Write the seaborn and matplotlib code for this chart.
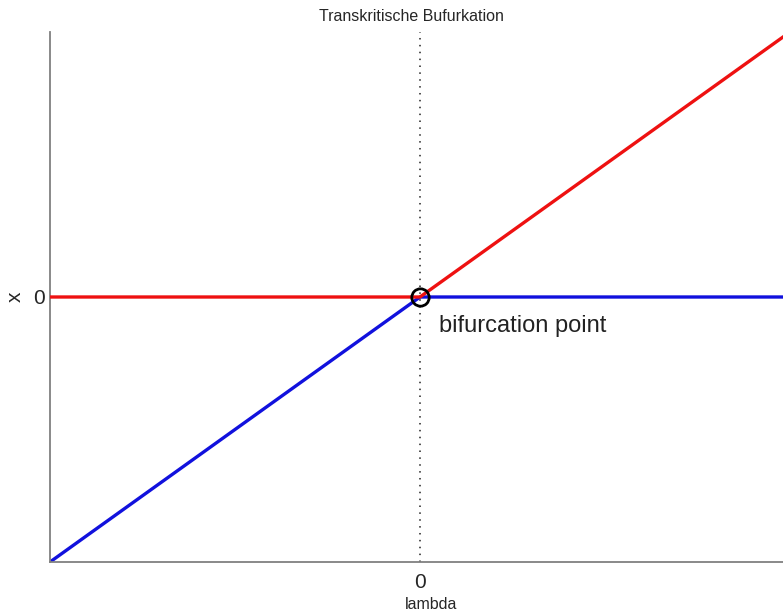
import matplotlib
matplotlib.use("Agg")
import matplotlib.pyplot as plt
import seaborn as sns
import pandas as pd

# data
lambda_vals = [-1.0, 0.0, 1.0]
red_branch = [0.0, 0.0, 1.0]
blue_branch = [-1.0, 0.0, 0.0]
bif_point = (0.0, 0.0)
xticks = [0]
yticks = [0]

sns.set_style("white")
plt.rcParams['font.family'] = ['Liberation Sans', 'DejaVu Sans']

fig = plt.figure(figsize=(7.83, 6.15), dpi=100)
ax = fig.add_axes([50/783, (615-562)/615, 740/783, 530/615])

df_red = pd.DataFrame({"lambda": lambda_vals, "x": red_branch})
df_blue = pd.DataFrame({"lambda": lambda_vals, "x": blue_branch})

ax.axvline(0, color="#222222", linestyle=(0, (1, 3.5)), linewidth=1.1, zorder=1)
sns.lineplot(data=df_red, x="lambda", y="x", color="#ee1111", linewidth=2.4, ax=ax, zorder=3)
sns.lineplot(data=df_blue, x="lambda", y="x", color="#1111dd", linewidth=2.4, ax=ax, zorder=2)
ax.plot([bif_point[0]], [bif_point[1]], marker="o", markersize=12.5, markerfacecolor="none",
        markeredgecolor="black", markeredgewidth=2.0, zorder=5, clip_on=False)
ax.text(0.052, -0.11, "bifurcation point", fontsize=17, va="center", ha="left", color="#222222")

ax.set_xlim(-1, 1)
ax.set_ylim(-1, 1)
ax.set_xticks(xticks)
ax.set_yticks(yticks)
ax.set_xticklabels([str(v) for v in xticks], fontsize=15)
ax.set_yticklabels([str(v) for v in yticks], fontsize=15)
ax.tick_params(direction="in", length=5, width=1, color="#555555")
ax.tick_params(axis="x", pad=8)
ax.tick_params(axis="y", pad=4)
ax.set_xlabel("lambda", fontsize=11.5)
ax.xaxis.set_label_coords((431-50)/740, -0.066)
ax.set_ylabel("x", fontsize=15, labelpad=6)
ax.set_title("Transkritische Bufurkation", fontsize=11.5, pad=8, x=(411-50)/740)

for side in ["top", "right"]:
    ax.spines[side].set_visible(False)
for side in ["left", "bottom"]:
    ax.spines[side].set_color("#808080")
    ax.spines[side].set_linewidth(1.3)

fig.savefig("out.png", dpi=100)
